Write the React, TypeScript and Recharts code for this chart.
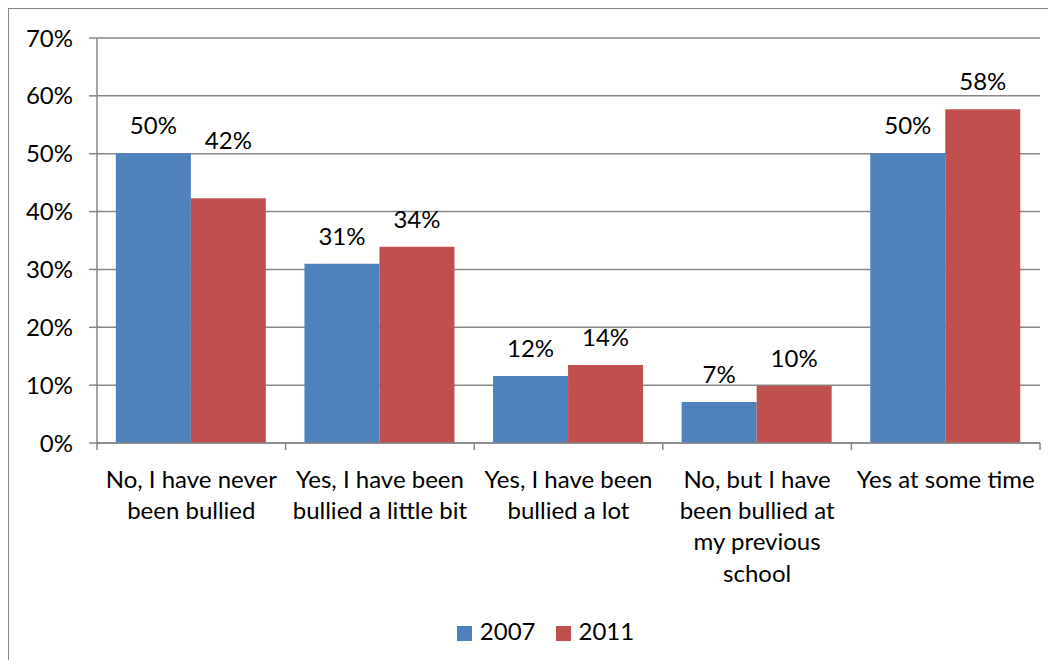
import React from 'react';
import { BarChart, Bar, XAxis, YAxis, CartesianGrid, Legend, LabelList } from 'recharts';

const categories = [
    'No, I have never\nbeen bullied',
    'Yes, I have been\nbullied a little bit',
    'Yes, I have been\nbullied a lot',
    'No, but I have\nbeen bullied at\nmy previous\nschool',
    'Yes at some time',
];
const values2007 = [50.1, 31.0, 11.6, 7.1, 50.1];
const values2011 = [42.3, 33.9, 13.5, 9.9, 57.7];
const yTicks = [0, 10, 20, 30, 40, 50, 60, 70];

const data = categories.map((name, i) => ({
    name,
    y2007: values2007[i],
    y2011: values2011[i],
}));

const FONT = 'Lato, "Liberation Sans", sans-serif';
const FONT_SIZE = 24;
const GRAY = '#878787';

// the 2011 label over the first group was dragged up by hand in the original
const LABEL_LIFT: Record<string, number[]> = { y2011: [30, 0, 0, 0, 0] };

const CategoryTick = (props: any) => {
    const { x, y, payload, index, visibleTicksCount } = props;
    const half = payload.offset ?? 94.3;
    const lines = String(payload.value).split('\n');
    return (
        <g>
            <line x1={x - half} y1={y} x2={x - half} y2={y + 7} stroke={GRAY} strokeWidth={1.5} />
            {index === visibleTicksCount - 1 && (
                <line x1={x + half} y1={y} x2={x + half} y2={y + 7} stroke={GRAY} strokeWidth={1.5} />
            )}
            {lines.map((line, i) => (
                <text
                    key={i}
                    x={x}
                    y={y + 36 + i * 31.3}
                    dy="0.36em"
                    textAnchor="middle"
                    fill="#000"
                    fontSize={FONT_SIZE}
                    fontFamily={FONT}
                >
                    {line}
                </text>
            ))}
        </g>
    );
};

const makeLabel = (key: string) => (props: any) => {
    const { x, y, width, value, index } = props;
    const lift = (LABEL_LIFT[key] || [])[index] || 0;
    return (
        <text
            x={x + width / 2}
            y={y - 19 - lift}
            textAnchor="middle"
            fill="#000"
            fontSize={FONT_SIZE}
            fontFamily={FONT}
        >
            {Math.round(value) + '%'}
        </text>
    );
};

const App: React.FC = () => {
    return (
        <div
            style={{
                width: 1040,
                height: 652,
                borderTop: `1px solid ${GRAY}`,
                borderLeft: `1px solid ${GRAY}`,
                boxSizing: 'border-box',
                fontFamily: FONT,
            }}
        >
            <BarChart
                width={1039}
                height={651}
                data={data}
                margin={{ top: 29, right: 8, left: 0, bottom: 0 }}
                barCategoryGap="10%"
                barGap={0}
            >
                <CartesianGrid vertical={false} stroke={GRAY} strokeWidth={1.5} />
                <XAxis
                    dataKey="name"
                    height={217}
                    interval={0}
                    tickSize={0}
                    tickMargin={0}
                    tickLine={false}
                    axisLine={{ stroke: GRAY, strokeWidth: 1.5 }}
                    tick={<CategoryTick />}
                />
                <YAxis
                    width={88}
                    domain={[0, 70]}
                    ticks={yTicks}
                    interval={0}
                    tickSize={8}
                    tickMargin={16}
                    tickFormatter={(v: number) => `${v}%`}
                    axisLine={{ stroke: GRAY, strokeWidth: 1.5 }}
                    tickLine={{ stroke: GRAY, strokeWidth: 1.5 }}
                    tick={{ fill: '#000', fontSize: FONT_SIZE, fontFamily: FONT }}
                />
                <Legend
                    layout="horizontal"
                    align="center"
                    verticalAlign="middle"
                    iconType="square"
                    iconSize={15}
                    wrapperStyle={{ top: 607, left: 27, width: 1039, fontSize: FONT_SIZE, color: '#000' }}
                    formatter={(value: string) => (
                        <span style={{ color: '#000', paddingLeft: 4, paddingRight: 10 }}>{value}</span>
                    )}
                />
                <Bar dataKey="y2007" name="2007" fill="#4F81BD" isAnimationActive={false}>
                    <LabelList dataKey="y2007" content={makeLabel('y2007')} />
                </Bar>
                <Bar dataKey="y2011" name="2011" fill="#C0504D" isAnimationActive={false}>
                    <LabelList dataKey="y2011" content={makeLabel('y2011')} />
                </Bar>
            </BarChart>
        </div>
    );
};

export default App;
